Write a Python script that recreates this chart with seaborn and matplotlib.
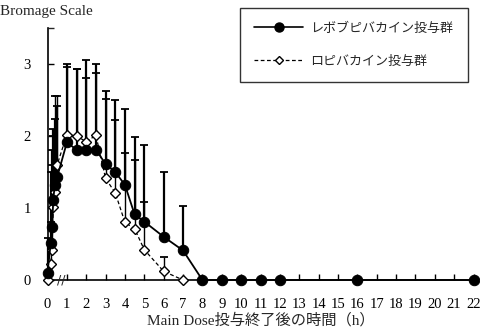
import numpy as np
import pandas as pd
import matplotlib
matplotlib.use("Agg")
import matplotlib.pyplot as plt
import seaborn as sns
from matplotlib.lines import Line2D

sns.set_theme(style="ticks")
plt.rcParams['font.family'] = ['Liberation Serif', 'Noto Sans CJK JP']

# ---- data ----
levo_label = "レボブピバカイン投与群"
rop_label = "ロピバカイン投与群"

times_levo = [0, 0.17, 0.23, 0.3, 0.37, 0.5, 1, 1.5, 2, 2.5, 3, 3.5, 4, 4.5, 5, 6, 7,
              8, 9, 10, 11, 12, 16, 22]
levo_mean = [0.10, 0.52, 0.73, 1.11, 1.32, 1.43, 1.91, 1.81, 1.81, 1.81, 1.61, 1.50, 1.32,
             0.91, 0.81, 0.60, 0.41, 0, 0, 0, 0, 0, 0, 0]
levo_upper = [0.58, 1.50, 1.80, 2.10, 2.23, 2.42, 3.00, 2.93, 3.06, 3.00, 2.63, 2.50, 2.38,
              1.98, 1.88, 1.50, 1.03, 0, 0, 0, 0, 0, 0, 0]

times_rop = [0, 0.17, 0.23, 0.3, 0.37, 0.5, 1, 1.5, 2, 2.5, 3, 3.5, 4, 4.5, 5, 6, 7]
rop_mean = [0.0, 0.22, 0.42, 1.02, 1.22, 1.60, 2.02, 2.00, 1.92, 2.01, 1.41, 1.21, 0.80,
            0.71, 0.42, 0.12, 0.0]
rop_upper = [0.0, 0.80, 1.60, 2.00, 2.55, 2.55, 2.96, 2.93, 2.80, 2.88, 2.52, 2.22, 1.77,
             1.66, 1.08, 0.32, 0.0]

x_ticks = list(range(0, 23))
y_ticks = [0, 1, 2, 3]
x_label = "Main Dose投与終了後の時間（h）"
y_label = "Bromage Scale"

df_levo = pd.DataFrame({"t": times_levo, "m": levo_mean, "u": levo_upper})
df_rop = pd.DataFrame({"t": times_rop, "m": rop_mean, "u": rop_upper})

fig = plt.figure(figsize=(4.81, 3.29), dpi=100)
ax = fig.add_axes([47.5/481, 1 - 280/329, (473.5-47.5)/481, (280-28)/329])

# error bars (upper only)
for df, lw in ((df_rop, 1.0), (df_levo, 1.6)):
    e = df[df["u"] > df["m"]]
    ax.errorbar(e["t"], e["m"], yerr=[np.zeros(len(e)), (e["u"] - e["m"]).values],
                fmt="none", ecolor="black", elinewidth=lw, capsize=3, capthick=1.3,
                zorder=2, clip_on=False)

sns.lineplot(data=df_rop, x="t", y="m", ax=ax, color="black", linewidth=0.9,
             linestyle=(0, (3, 2)), marker="D", markersize=5, markerfacecolor="white",
             markeredgecolor="black", markeredgewidth=1.0, zorder=3, clip_on=False)
sns.lineplot(data=df_levo, x="t", y="m", ax=ax, color="black", linewidth=1.3,
             marker="o", markersize=7.5, markerfacecolor="black",
             markeredgecolor="black", zorder=4, clip_on=False)

ax.set_xlim(0, 22)
ax.set_ylim(0, 3.5)
ax.set_xticks(x_ticks)
ax.set_xticklabels([str(v) for v in x_ticks])
ax.set_yticks(y_ticks)
ax.set_yticks([3.5], minor=True)
ax.tick_params(axis="both", direction="in", length=4, width=1, colors="black",
               labelsize=10.5)
ax.tick_params(axis="x", pad=13)
ax.tick_params(axis="y", pad=12)
ax.tick_params(axis="y", which="minor", direction="in", length=4, width=1)
for lab in ax.get_xticklabels() + ax.get_yticklabels():
    lab.set_family(['Liberation Serif', 'Noto Sans CJK JP'])
ax.set_xlabel(x_label, fontsize=11, labelpad=1)
ax.set_ylabel("")
fig.text(0.0, 1 - 12/329, y_label, fontsize=11, va="center", ha="left")
for s in ("top", "right"):
    ax.spines[s].set_visible(False)
for s in ("left", "bottom"):
    ax.spines[s].set_color("black")
    ax.spines[s].set_linewidth(1.2)
ax.set_facecolor("white")

# axis break mark
ax.text(0.7, 0, "//", ha="center", va="center", fontsize=9, zorder=5,
        family="DejaVu Sans")

handles = [
    Line2D([], [], color="black", linewidth=1.2, marker="o", markersize=6.5),
    Line2D([], [], color="black", linewidth=0.9, linestyle=(0, (3, 2)), marker="D",
           markersize=4.5, markerfacecolor="white", markeredgecolor="black"),
]
leg = fig.legend(handles, [levo_label, rop_label], loc="upper left",
                 bbox_to_anchor=(240/481, 1 - 8/329), frameon=True, fancybox=False,
                 edgecolor="black", fontsize=9.4, handlelength=3.7, borderpad=1.1,
                 labelspacing=1.6, borderaxespad=0, handletextpad=0.6)
leg.get_frame().set_linewidth(1.0)
if ax.get_legend() is not None:
    ax.get_legend().remove()

fig.savefig("out.png", dpi=100, facecolor="white")
